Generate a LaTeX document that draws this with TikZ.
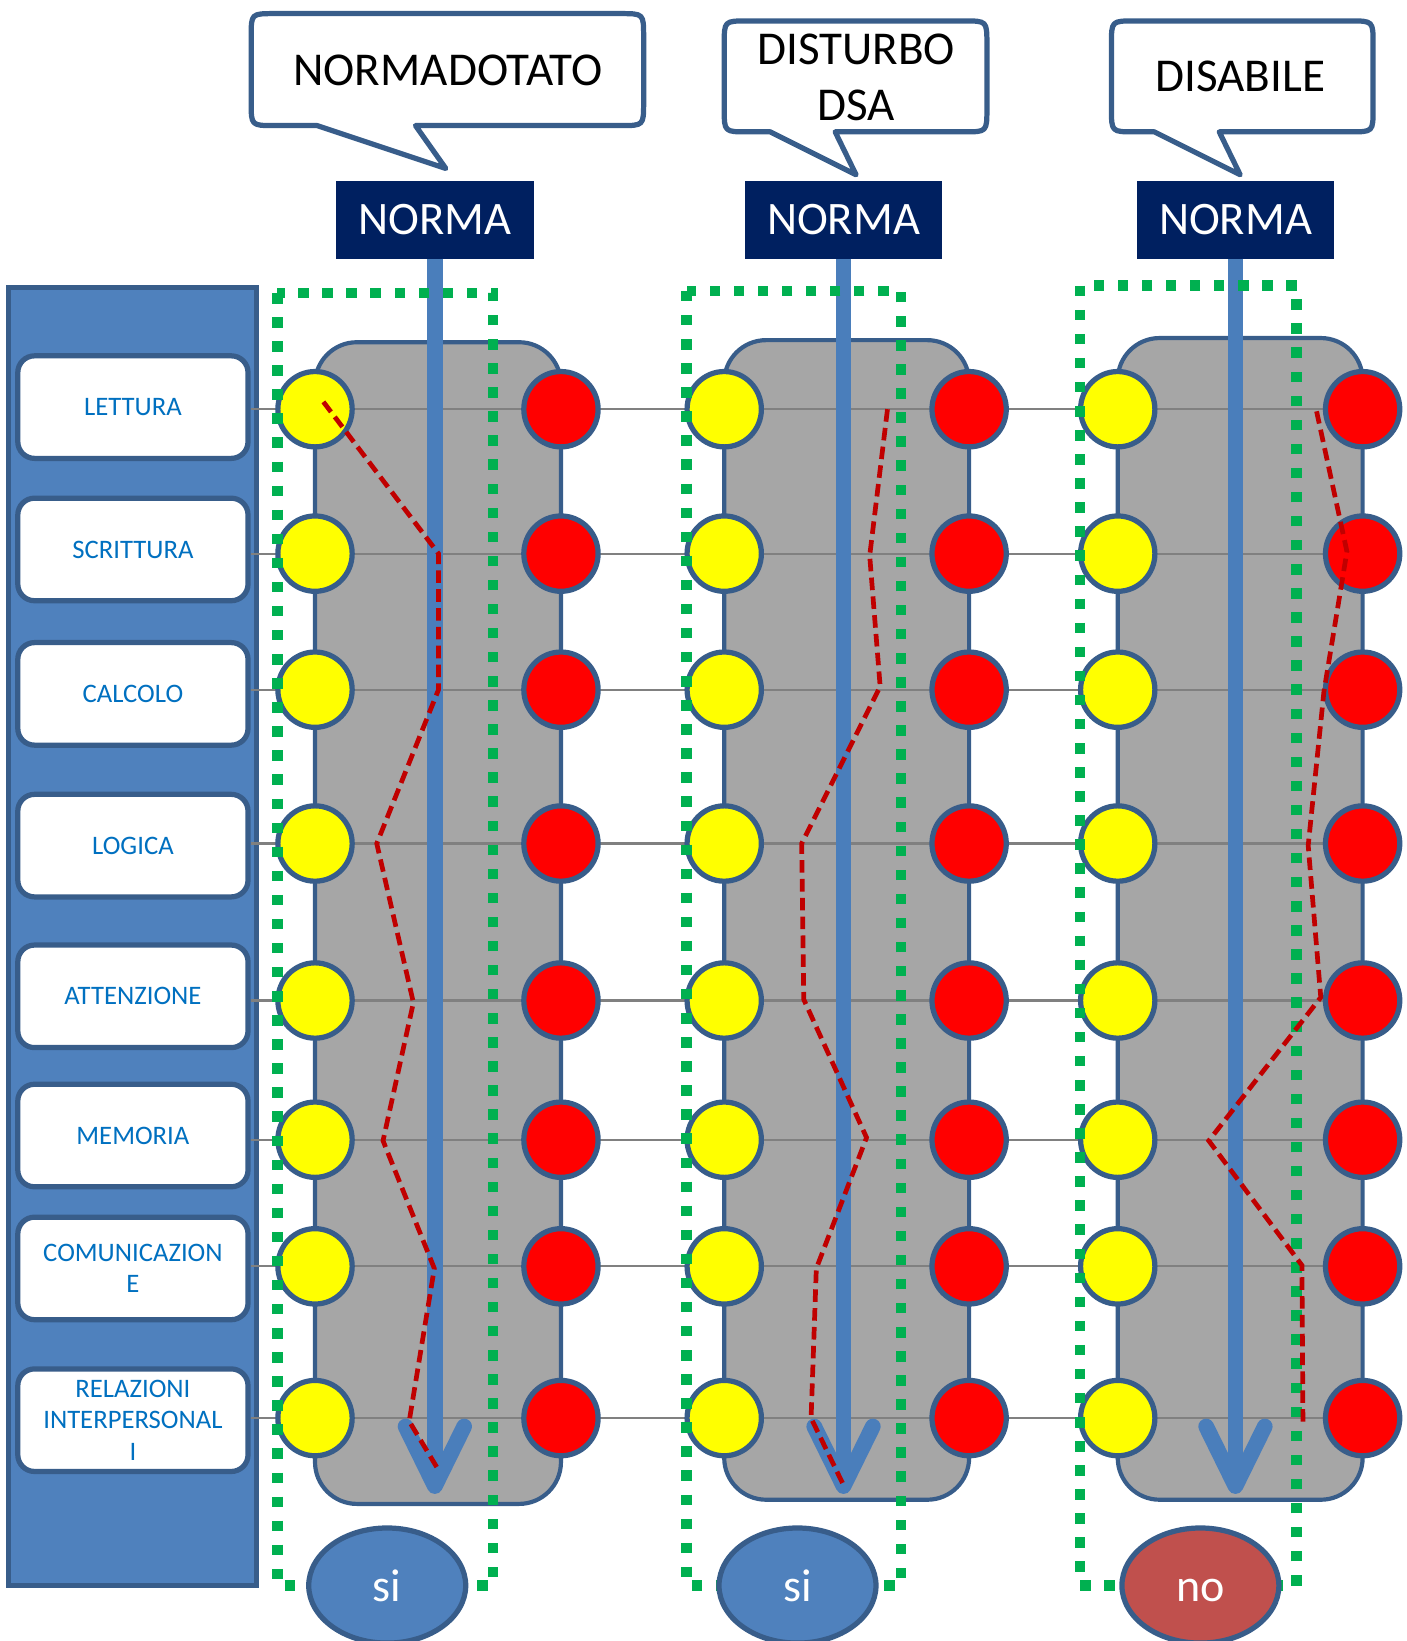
\documentclass[tikz,border=0pt]{standalone}
\usepackage{fontspec}
\setmainfont{Carlito}
\usetikzlibrary{calc,shapes.geometric}
\pgfdeclarelayer{back}
\pgfdeclarelayer{lines}
\pgfsetlayers{back,lines,main}
\definecolor{panelblue}{HTML}{4F81BD}
\definecolor{edgeblue}{HTML}{385D8A}
\definecolor{labeltext}{HTML}{0070C0}
\definecolor{boxgray}{HTML}{A6A6A6}
\definecolor{navyfill}{HTML}{002060}
\definecolor{arrowblue}{HTML}{4A7EBB}
\definecolor{dotgreen}{HTML}{00B050}
\definecolor{dashred}{HTML}{C00000}
\definecolor{nored}{HTML}{C0504D}
\definecolor{rowgray}{HTML}{808080}
\definecolor{dotyellow}{HTML}{FFFF00}
\definecolor{dotred}{HTML}{FF0000}
\tikzset{
 panelbox/.style={draw=edgeblue, line width=5pt, fill=panelblue, minimum width=237pt, minimum height=1240pt, inner sep=0pt},
 labelbox/.style={draw=edgeblue, line width=5pt, fill=white, rounded corners=16pt, minimum width=220pt, minimum height=98pt, align=center, text=labeltext, font=\fontsize{25.5}{30}\selectfont, inner sep=0pt},
 yellowdot/.style={ellipse, draw=edgeblue, line width=5pt, fill=dotyellow, minimum width=71pt, minimum height=72pt, inner sep=0pt},
 reddot/.style={yellowdot, fill=dotred},
 normabox/.style={fill=navyfill, text=white, minimum width=189pt, minimum height=74pt, font=\fontsize{44.5}{50}\selectfont, inner sep=0pt},
 normaline/.style={draw=arrowblue, line width=15pt},
 arrowhead/.style={normaline, line cap=round, line join=round},
 greenframe/.style={draw=dotgreen, line width=10pt, dash pattern=on 10pt off 13pt},
 pathline/.style={draw=dashred, line width=4.5pt, dash pattern=on 12pt off 6pt},
 rowline/.style={draw=rowgray, line width=2pt},
 graybox/.style={draw=edgeblue, line width=4pt, fill=boxgray, rounded corners=40pt, inner sep=0pt},
 callout/.style={draw=edgeblue, line width=5pt, fill=white, line join=round},
 callouttext/.style={font=\fontsize{45}{54}\selectfont, align=center, inner sep=0pt},
 answerbox/.style={ellipse, draw=edgeblue, line width=5pt, minimum width=150pt, minimum height=110pt, text=white, font=\fontsize{44}{50}\selectfont, inner sep=0pt},
}
\newcommand\calloutpath[8]{%
 \draw[callout] (#6,#7) -- (#8,#4) -- ({#3-22},#4) .. controls (#3,#4) .. (#3,{#4-22}) -- (#3,{#2+22}) .. controls (#3,#2) .. ({#3-22},#2) -- ({#1+22},#2) .. controls (#1,#2) .. (#1,{#2+22}) -- (#1,{#4-22}) .. controls (#1,#4) .. ({#1+22},#4) -- (#5,#4) -- cycle;}
\begin{document}
\begin{tikzpicture}[x=1pt,y=-1pt]
\useasboundingbox (0,0) rectangle (1344,1568);

% back layer: panel and gray boxes
\begin{pgfonlayer}{back}
\node[panelbox] (panel) at (126.5,895) {};
\node[graybox, minimum width=235pt, minimum height=1110pt] (g1) at (418.5,882) {};
\node[graybox, minimum width=234pt, minimum height=1108pt] (g2) at (809,879) {};
\node[graybox, minimum width=234pt, minimum height=1110pt] (g3) at (1185,878) {};
\end{pgfonlayer}

% labels
\node[labelbox] (L1) at (127,389) {LETTURA};
\node[labelbox] (L2) at (127,525) {SCRITTURA};
\node[labelbox] (L3) at (127,663) {CALCOLO};
\node[labelbox] (L4) at (127,808) {LOGICA};
\node[labelbox] (L5) at (127,952) {ATTENZIONE};
\node[labelbox] (L6) at (127,1085) {MEMORIA};
\node[labelbox] (L7) at (127,1212) {COMUNICAZION\\E};
\node[labelbox] (L8) at (127,1357) {RELAZIONI\\INTERPERSONAL\\I};

% circles
\foreach \c/\xl/\xr in {1/301/536,2/692/926,3/1068/1302}{
 \foreach \r/\yy in {1/391,2/529,3/659,4/806,5/956,6/1089,7/1210,8/1355}{
  \node[yellowdot] (y\c-\r) at (\xl,\yy) {};
  \node[reddot] (r\c-\r) at (\xr,\yy) {};
 }
}

% row lines
\begin{pgfonlayer}{lines}
\foreach \r in {1,...,8}{
 \draw[rowline] (L\r.east |- y1-\r.center) -- (r3-\r.center);
}
\end{pgfonlayer}

% NORMA boxes and arrows
\foreach \c/\xa in {1/415.5,2/806,3/1180.5}{
 \node[normabox] (n\c) at (\xa,210) {NORMA};
 \coordinate (t\c) at (\xa,1420);
 \draw[normaline] (n\c.south) -- (t\c);
 \draw[arrowhead] ($(t\c)+(-28,-57)$) -- (t\c) -- ($(t\c)+(28,-57)$);
}

% green dotted frames
\draw[greenframe] (265,280) rectangle (471,1515);
\draw[greenframe] (656,278) rectangle (861,1515);
\draw[greenframe] (1032,273) rectangle (1239,1515);

% red dashed profiles
\draw[pathline] (309,384) -- (419,529) -- (419,659) -- (360,806) -- (395,958) -- (366,1090) -- (415,1212) -- (391,1358) -- (418,1403);
\draw[pathline] (848,391) -- (831,531) -- (841,656) -- (766,806) -- (768,955) -- (828,1087) -- (780,1212) -- (775,1355) -- (805,1417);
\draw[pathline] (1258,393) -- (1287,527) -- (1265,661) -- (1250,808) -- (1262,953) -- (1155,1090) -- (1244,1209) -- (1245,1362);

% callouts
\calloutpath{240}{13}{615}{120}{303}{426}{161}{397}
\node[callouttext] (c1) at (428,67) {NORMADOTATO};
\calloutpath{692}{20}{943}{126}{736}{818}{167}{798}
\node[callouttext] (c2) at (818,74) {DISTURBO\\DSA};
\calloutpath{1062}{20}{1312}{126}{1103}{1185}{167}{1165}
\node[callouttext] (c3) at (1185,73) {DISABILE};

% answers
\node[answerbox, fill=panelblue] (a1) at (370,1515) {si};
\node[answerbox, fill=panelblue] (a2) at (762,1515) {si};
\node[answerbox, fill=nored] (a3) at (1147,1515) {\vphantom{i}no};
\end{tikzpicture}
\end{document}
